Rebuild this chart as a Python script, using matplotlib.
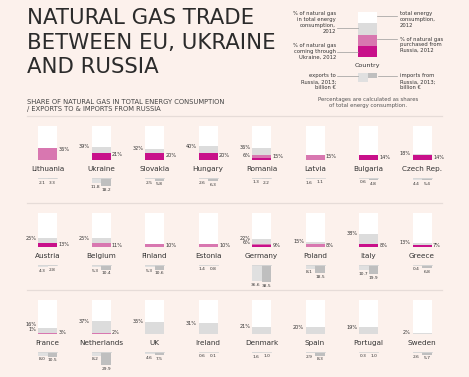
import matplotlib.pyplot as plt
from matplotlib.patches import Rectangle

countries = ["Lithuania", "Ukraine", "Slovakia", "Hungary", "Romania", "Latvia", "Bulgaria", "Czech Rep.",
             "Austria", "Belgium", "Finland", "Estonia", "Germany", "Poland", "Italy", "Greece",
             "France", "Netherlands", "UK", "Ireland", "Denmark", "Spain", "Portugal", "Sweden"]
gas_share = [36, 39, 32, 40, 36, 15, 14, 18,
             25, 25, 10, 10, 22, 15, 38, 13,
             16, 37, 35, 31, 21, 20, 19, 2]
russia_share = [36, 21, 20, 20, 15, 15, 14, 14,
                13, 11, 10, 10, 9, 8, 8, 7,
                3, 2, 0, 0, 0, 0, 0, 0]
ukraine_share = [0, 21, 20, 20, 6, 0, 14, 14,
                 13, 0, 0, 0, 6, 0, 8, 7,
                 1, 0, 0, 0, 0, 0, 0, 0]
exports = [2.1, 11.8, 2.5, 2.6, 1.3, 1.6, 0.6, 4.4,
           4.3, 5.3, 5.3, 1.4, 36.6, 8.1, 10.7, 0.4,
           8.0, 8.2, 4.6, 0.6, 1.6, 2.9, 0.3, 2.6]
imports = [3.3, 18.2, 5.8, 6.3, 2.2, 1.1, 4.8, 5.4,
           2.8, 10.4, 10.6, 0.8, 38.5, 18.5, 19.9, 6.8,
           10.5, 29.9, 7.5, 0.1, 1.0, 8.3, 1.0, 5.7]

legend_shares = [75, 50, 25]   # gas, russia, ukraine (illustrative)
legend_trade = [20, 11]        # exports, imports (illustrative)

BG = "#fcf1ec"
GREY = "#dcdcdc"
PINK = "#d877b0"
MAGENTA = "#c8108a"
EXP = "#e0e0e0"
IMP = "#bfbfbf"
TXT = "#333333"
plt.rcParams['font.family'] = ['DejaVu Sans']

fig = plt.figure(figsize=(4.69, 3.77), dpi=100)
fig.patch.set_facecolor(BG)
ax = fig.add_axes([0, 0, 1, 1])
ax.set_xlim(0, 469)
ax.set_ylim(377, 0)
ax.axis('off')

K = 0.44   # px per billion euro
BOX_W = 19
BOX_H = 34.5


def share_box(x0, bottom, h, gas, rus, ukr):
    ax.add_patch(Rectangle((x0, bottom - h), BOX_W, h, color="white", lw=0))
    ax.add_patch(Rectangle((x0, bottom - gas * h / 100), BOX_W, gas * h / 100, color=GREY, lw=0))
    if rus > 0:
        ax.add_patch(Rectangle((x0, bottom - rus * h / 100), BOX_W, rus * h / 100, color=PINK, lw=0))
    if ukr > 0:
        ax.add_patch(Rectangle((x0, bottom - ukr * h / 100), BOX_W, ukr * h / 100, color=MAGENTA, lw=0))


# title
ax.text(27, 8.5, "NATURAL GAS TRADE\nBETWEEN EU, UKRAINE\nAND RUSSIA", fontsize=15.3, color="#2b2b2b",
        va='top', ha='left', linespacing=1.28)

# header
ax.text(27, 99, "SHARE OF NATURAL GAS IN TOTAL ENERGY CONSUMPTION\n/ EXPORTS TO & IMPORTS FROM RUSSIA",
        fontsize=4.9, color="#444444", va='top', ha='left', linespacing=1.3)
ax.text(368, 97.5, "Percentages are calculated as shares\nof total energy consumption.",
        fontsize=3.9, color="#555555", va='top', ha='center', linespacing=1.25)
for yl in [116, 203, 290]:
    ax.plot([27, 442], [yl, yl], color="#e6dcd8", lw=0.9)

# small multiples
bottoms = [160, 247, 334]
for i, name in enumerate(countries):
    r, c = divmod(i, 8)
    x0 = 38 + 53.5 * c
    xc = x0 + BOX_W / 2
    b = bottoms[r]
    g, ru, uk = gas_share[i], russia_share[i], ukraine_share[i]
    share_box(x0, b, BOX_H, g, ru, uk)

    # right label: share purchased from Russia
    if ru > 0:
        y = min(b - ru * BOX_H / 100 + 2, b - 1.8)
        ax.text(x0 + BOX_W + 1.5, y, f"{ru}%", fontsize=3.6, color=TXT, va='center', ha='left')
    # left labels
    low_y = None
    if 0 < uk < ru:
        low_y = min(b - uk * BOX_H / 100 - 1.5, b - 4.5)
        ax.text(x0 - 1.5, low_y, f"{uk}%", fontsize=3.6, color=TXT, va='center', ha='right')
    if g != ru:
        y = min(b - g * BOX_H / 100, b - 2)
        if low_y is not None:
            y = min(y, low_y - 4.5)
        ax.text(x0 - 1.5, y, f"{g}%", fontsize=3.6, color=TXT, va='center', ha='right')

    ax.text(xc, b + 9, name, fontsize=5.2, color=TXT, va='center', ha='center')

    # exports / imports
    ly = b + 18
    ax.plot([x0, x0 + BOX_W], [ly, ly], color="#d6d6d6", lw=0.6)
    ax.add_patch(Rectangle((x0, ly), BOX_W / 2, exports[i] * K, color=EXP, lw=0))
    ax.add_patch(Rectangle((xc, ly), BOX_W / 2, imports[i] * K, color=IMP, lw=0))
    ax.text(x0 + BOX_W / 4 - 0.8, ly + exports[i] * K + 1.8, f"{exports[i]:.1f}", fontsize=3.2,
            color=TXT, va='top', ha='center')
    ax.text(xc + BOX_W / 4 + 0.3, ly + imports[i] * K + 1.8, f"{imports[i]:.1f}", fontsize=3.2,
            color=TXT, va='top', ha='center')

# legend
lx, lb, lh = 358, 57, 45
share_box(lx, lb, lh, *legend_shares)
ax.text(lx + BOX_W / 2, 66, "Country", fontsize=4.6, color=TXT, va='center', ha='center')
ax.add_patch(Rectangle((lx, 73), BOX_W / 2, legend_trade[0] * 0.45, color=EXP, lw=0))
ax.add_patch(Rectangle((lx + BOX_W / 2, 73), BOX_W / 2, legend_trade[1] * 0.45, color=IMP, lw=0))

LC = "#9a9a9a"
lfs = 3.8
ax.plot([337, 358], [28, 28], color=LC, lw=0.5)
ax.text(336, 11.5, "% of natural gas\nin total energy\nconsumption,\n2012", fontsize=lfs, color=TXT,
        ha='right', va='top', linespacing=1.22)
ax.plot([377, 397], [16, 16], color=LC, lw=0.5)
ax.text(400, 11.5, "total energy\nconsumption,\n2012", fontsize=lfs, color=TXT,
        ha='left', va='top', linespacing=1.22)
ax.plot([377, 397], [39, 39], color=LC, lw=0.5)
ax.text(400, 36.5, "% of natural gas\npurchased from\nRussia, 2012", fontsize=lfs, color=TXT,
        ha='left', va='top', linespacing=1.22)
ax.plot([337, 358], [52, 52], color=LC, lw=0.5)
ax.text(336, 43.5, "% of natural gas\ncoming through\nUkraine, 2012", fontsize=lfs, color=TXT,
        ha='right', va='top', linespacing=1.22)
ax.plot([337, 358], [76, 76], color=LC, lw=0.5)
ax.text(336, 73.5, "exports to\nRussia, 2013;\nbillion €", fontsize=lfs, color=TXT,
        ha='right', va='top', linespacing=1.22)
ax.plot([378, 397], [76, 76], color=LC, lw=0.5)
ax.text(400, 73.5, "imports from\nRussia, 2013;\nbillion €", fontsize=lfs, color=TXT,
        ha='left', va='top', linespacing=1.22)

fig.savefig("out.png", dpi=100, facecolor=BG)
